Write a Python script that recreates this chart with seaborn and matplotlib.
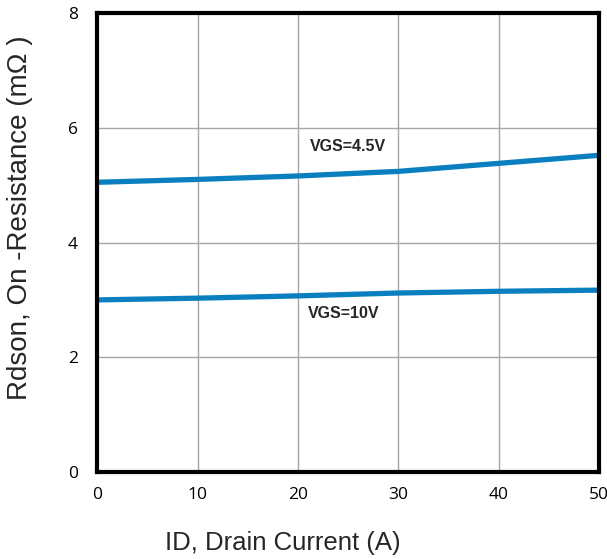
import matplotlib
matplotlib.use("Agg")
import matplotlib.pyplot as plt
import seaborn as sns
import pandas as pd

current = [0, 10, 20, 30, 40, 50]
rds_45 = [5.05, 5.10, 5.16, 5.24, 5.38, 5.52]
rds_10 = [3.00, 3.03, 3.07, 3.12, 3.15, 3.17]
series_names = ["VGS=4.5V", "VGS=10V"]
x_ticks = [0, 10, 20, 30, 40, 50]
y_ticks = [0, 2, 4, 6, 8]

df = pd.DataFrame({
    "I": current * 2,
    "R": rds_45 + rds_10,
    "s": [series_names[0]] * len(current) + [series_names[1]] * len(current),
})

sns.set_style("white")
fig = plt.figure(figsize=(6.07, 5.59), dpi=100)
ax = fig.add_axes([0.160, 0.1556, 0.827, 0.8211])

sns.lineplot(data=df, x="I", y="R", hue="s", palette=["#0a7fc0", "#0a7fc0"],
             linewidth=3.8, legend=False, ax=ax)

ax.set_xlim(0, 50)
ax.set_ylim(0, 8)
ax.set_xticks(x_ticks)
ax.set_yticks(y_ticks)
ax.grid(True, color="#a6a6a6", linewidth=1.0)
ax.set_axisbelow(True)
for sp in ax.spines.values():
    sp.set_visible(True)
    sp.set_color("black")
    sp.set_linewidth(3)

tick_font = {"family": ["Open Sans", "DejaVu Sans"], "size": 12.5}
ax.set_xticklabels([str(v) for v in x_ticks], fontdict=tick_font)
ax.set_yticklabels([str(v) for v in y_ticks], fontdict=tick_font)
ax.tick_params(axis="both", length=0, colors="black")
ax.tick_params(axis="x", pad=11)
ax.tick_params(axis="y", pad=14)
ax.set_xlabel("")
ax.set_ylabel("")

fig.text(283 / 607, 1 - 543 / 559, "ID, Drain Current (A)", family="Liberation Sans",
         fontsize=18.5, ha="center", va="center")
fig.text(20 / 607, 1 - 218 / 559, "Rdson, On -Resistance (mΩ )", family="Liberation Sans",
         fontsize=20, ha="center", va="center", rotation=90)

ax.text(25, 5.67, series_names[0], ha="center", va="center", fontsize=11.5,
        fontweight="bold", family="Liberation Sans")
ax.text(24.6, 2.77, series_names[1], ha="center", va="center", fontsize=11.5,
        fontweight="bold", family="Liberation Sans")

fig.savefig("out.png", dpi=100)
